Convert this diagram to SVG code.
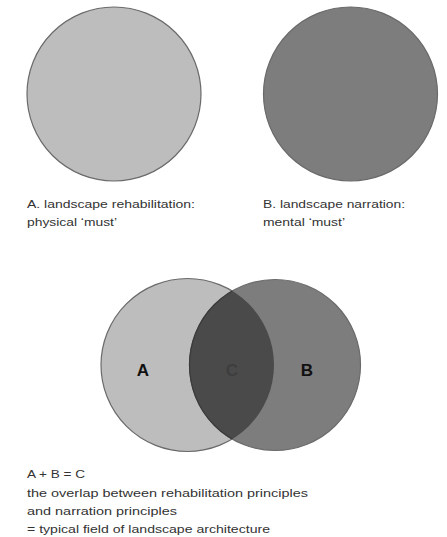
<svg xmlns="http://www.w3.org/2000/svg" width="447" height="537" viewBox="0 0 447 537">
<defs>
<style>
.t{font-family:"Liberation Sans","DejaVu Sans",sans-serif;font-size:11px;fill:#333333}
.big{font-family:"Liberation Sans","DejaVu Sans",sans-serif;font-size:17px;font-weight:bold;fill:#111;text-anchor:middle}
.ring{stroke:#6a6a6a;stroke-width:1.2}
</style>
<clipPath id="clipA"><circle cx="187.5" cy="365" r="86.5"/></clipPath>
</defs>
<rect width="447" height="537" fill="#ffffff"/>
<g id="circleA">
<circle class="ring" cx="114" cy="94" r="87" fill="#bdbdbd"/>
<text class="t" x="27" y="208" textLength="168" lengthAdjust="spacingAndGlyphs">A. landscape rehabilitation:</text>
<text class="t" x="27" y="226" textLength="90" lengthAdjust="spacingAndGlyphs">physical ‘must’</text>
</g>
<g id="circleB">
<circle class="ring" cx="350.5" cy="94" r="87" fill="#7d7d7d"/>
<text class="t" x="263" y="208" textLength="142" lengthAdjust="spacingAndGlyphs">B. landscape narration:</text>
<text class="t" x="263" y="226" textLength="82" lengthAdjust="spacingAndGlyphs">mental ‘must’</text>
</g>
<g id="venn">
<circle class="ring" cx="187.5" cy="365" r="86.5" fill="#bdbdbd"/>
<circle class="ring" cx="275" cy="365" r="85.5" fill="#7d7d7d"/>
<circle cx="275" cy="365" r="85.5" fill="#4a4a4a" stroke="#3a3a3a" stroke-width="1.2" clip-path="url(#clipA)"/>
<text class="big" x="143" y="376">A</text>
<text class="big" x="307" y="376">B</text>
<text class="big" x="232" y="376" style="fill:#3e3e3e">C</text>
</g>
<g id="caption">
<text class="t" x="27" y="478" textLength="58" lengthAdjust="spacingAndGlyphs">A + B = C</text>
<text class="t" x="27" y="497" textLength="281" lengthAdjust="spacingAndGlyphs">the overlap between rehabilitation principles</text>
<text class="t" x="27" y="515" textLength="150" lengthAdjust="spacingAndGlyphs">and narration principles</text>
<text class="t" x="27" y="533" textLength="243" lengthAdjust="spacingAndGlyphs">= typical field of landscape architecture</text>
</g>
</svg>
